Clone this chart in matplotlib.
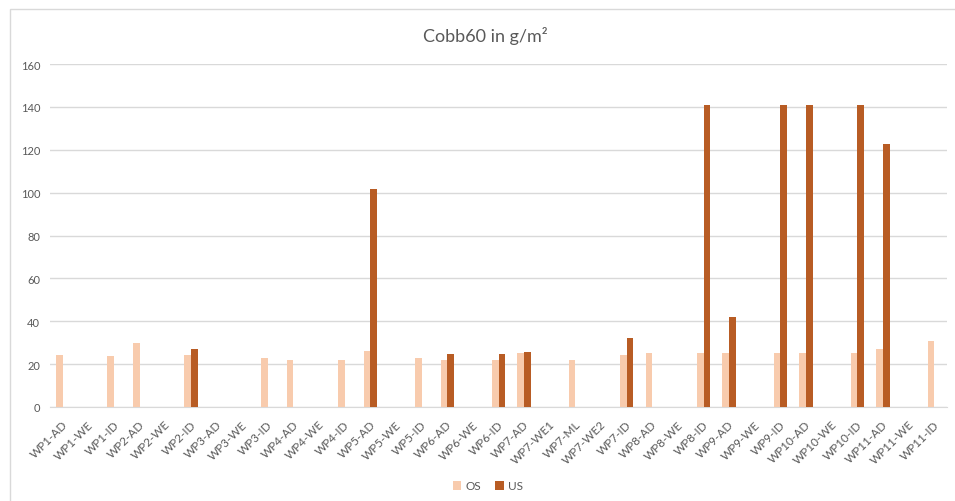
import numpy as np
import matplotlib
matplotlib.use("Agg")
import matplotlib.pyplot as plt
import matplotlib.transforms as mtransforms
from matplotlib.patches import Rectangle

categories = ["WP1-AD", "WP1-WE", "WP1-ID", "WP2-AD", "WP2-WE", "WP2-ID",
              "WP3-AD", "WP3-WE", "WP3-ID", "WP4-AD", "WP4-WE", "WP4-ID",
              "WP5-AD", "WP5-WE", "WP5-ID", "WP6-AD", "WP6-WE", "WP6-ID",
              "WP7-AD", "WP7-WE1", "WP7-ML", "WP7-WE2", "WP7-ID",
              "WP8-AD", "WP8-WE", "WP8-ID", "WP9-AD", "WP9-WE", "WP9-ID",
              "WP10-AD", "WP10-WE", "WP10-ID", "WP11-AD", "WP11-WE", "WP11-ID"]
nan = np.nan
os_vals = [24.3, nan, 23.6, 30.0, nan, 24.3,
           nan, nan, 23.0, 22.1, nan, 22.1,
           26.3, nan, 23.0, 21.8, nan, 21.8,
           25.0, nan, 22.1, nan, 24.3,
           25.0, nan, 25.0, 25.0, nan, 25.0,
           25.0, nan, 25.0, 27.2, nan, 30.6]
us_vals = [nan, nan, nan, nan, nan, 26.9,
           nan, nan, nan, nan, nan, nan,
           101.8, nan, nan, 24.8, nan, 24.8,
           25.8, nan, nan, nan, 32.2,
           nan, nan, 141.1, 41.9, nan, 141.1,
           141.1, nan, 141.1, 122.5, nan, nan]

grey = "#595959"
grid = "#D9D9D9"
plt.rcParams['font.family'] = ['Lato', 'DejaVu Sans']

fig = plt.figure(figsize=(9.55, 5.02), dpi=100)
fig.patches.append(Rectangle((10/955, -0.05), 1.2, 1 - 10/502 + 0.05, transform=fig.transFigure,
                             fill=False, edgecolor=grid, linewidth=1))
ax = fig.add_axes([50/955, 94/502, 897/955, 343/502])

x = np.arange(len(categories))
w = 0.26
ax.bar(x - w/2, os_vals, w, color="#F8CBAD", label="OS", zorder=3)
ax.bar(x + w/2, us_vals, w, color="#B85C24", label="US", zorder=3)

ax.set_xlim(-0.5, len(categories) - 0.5)
ax.set_ylim(0, 160)
ax.set_yticks(range(0, 161, 20))
ax.yaxis.grid(True, color=grid, linewidth=1, zorder=0)
for s in ["top", "right", "left"]:
    ax.spines[s].set_visible(False)
ax.spines["bottom"].set_color(grid)
ax.tick_params(axis="y", length=0, pad=7, labelsize=8, labelcolor=grey)
ax.tick_params(axis="x", length=0, pad=11, labelsize=8.5, labelcolor=grey)
ax.set_xticks(x)
ax.set_xticklabels(categories, rotation=45, ha="right", va="center", rotation_mode="anchor")
shift = mtransforms.ScaledTranslation(3/100, 0, fig.dpi_scale_trans)
for lab in ax.get_xticklabels():
    lab.set_transform(lab.get_transform() + shift)

fig.text(485/955, 1 - 36/502, "Cobb60 in g/m²", ha="center", va="center", fontsize=13, color=grey)
fig.legend(loc="center", bbox_to_anchor=(488/955, 1 - 487/502), ncol=2, frameon=False,
           fontsize=8.5, labelcolor=grey, handlelength=0.7, handleheight=0.7,
           handletextpad=0.4, columnspacing=1.2)

fig.savefig("out.png", dpi=100)
